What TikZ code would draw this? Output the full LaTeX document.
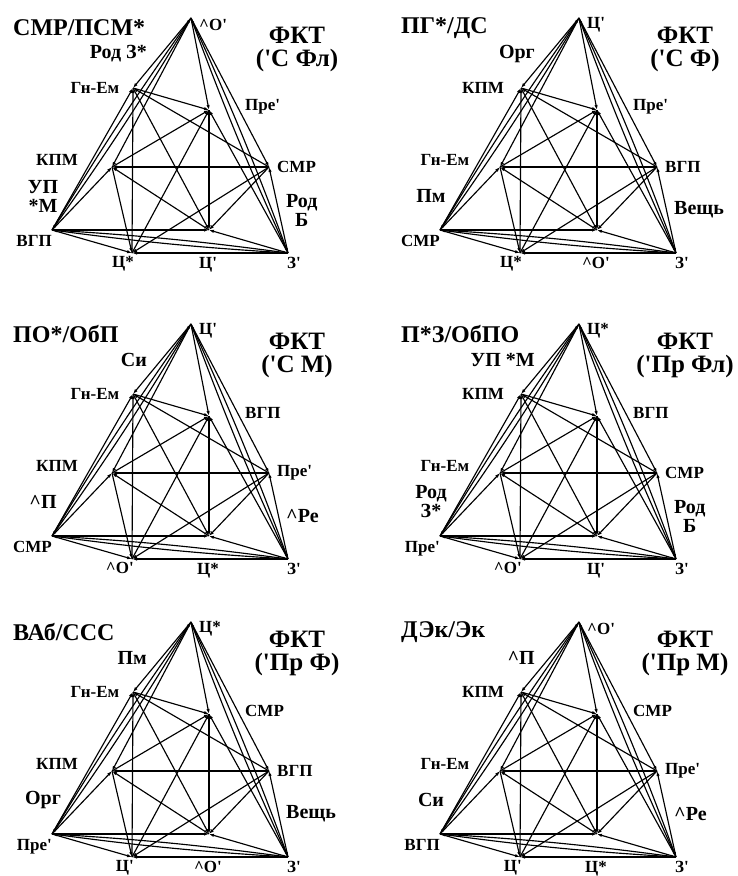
\documentclass[tikz,border=0pt]{standalone}
\usepackage{fontspec}
\setmainfont{Liberation Serif}
\usetikzlibrary{arrows.meta}

\newcommand{\ap}{\textquotesingle}
\newcommand{\crt}{\textasciicircum}

\tikzset{
  lnk/.style={-{Latex[length=5pt,width=3.4pt]}, line width=1.15pt},
  ttl/.style={font=\bfseries\fontsize{24}{26}\selectfont, inner sep=0pt},
  fkt/.style={font=\bfseries\fontsize{25}{23}\selectfont, align=center, inner sep=0pt},
  elab/.style={font=\bfseries\fontsize{20}{19}\selectfont, align=center, inner sep=0pt},
  vlab/.style={font=\bfseries\fontsize{17}{18}\selectfont, inner sep=0pt},
}

% the graph, same in every panel
\newcommand{\ftkgraph}{%
  \coordinate (T) at (0,0);
  \coordinate (G) at (-58,70);
  \coordinate (P) at (18,92);
  \coordinate (K) at (-79,149);
  \coordinate (R) at (78,149);
  \coordinate (L) at (-139,212);
  \coordinate (I) at (18,212);
  \coordinate (B) at (-59,235);
  \coordinate (Z) at (97,235);
  % inner part
  \foreach \a/\b in {G/P,R/G,G/I,B/G,K/P,R/K,I/K,K/B,P/I,B/P,R/I,R/B}
    \draw[lnk] (\a) -- (\b);
  % outer vertices to inner ones
  \foreach \a/\b in {T/G,T/K,T/P,T/R,L/G,L/K,L/I,L/B,Z/P,Z/R,Z/I,Z/B}
    \draw[lnk] (\a) -- (\b);
  % outer triangle, both ways
  \foreach \a/\b in {T/L,L/Z,Z/T}{
    \draw[lnk] (\a) to[bend left=2] (\b);
    \draw[lnk] (\b) to[bend left=2] (\a);
  }
}

% title, top vertex, upper edge, G, P, subtitle
\newcommand{\ftktop}[6]{%
  \node[ttl,anchor=west] (tt) at (-178,10) {#1};
  \node[vlab,anchor=west] (lT) at (8,7) {#2};
  \node[elab,anchor=east] (e1) at (-44,36) {#3};
  \node[vlab] (lG) at (-96,70) {#4};
  \node[vlab,anchor=west] (lP) at (54,89) {#5};
  \node[fkt] (fk) at (106,31) {ФКТ\\#6};
}
% K, left edge, R, right edge, L, B, I, Z
\newcommand{\ftkbot}[8]{%
  \node[vlab] (lK) at (-134,142) {#1};
  \node[elab] (e2) at (-148,178) {#2};
  \node[vlab,anchor=west] (lR) at (86,149) {#3};
  \node[elab,anchor=west] (e3) at (95,192) {#4};
  \node[vlab,anchor=north east] (lL) at (-139,217) {#5};
  \node[vlab,anchor=north east] (lB) at (-57,238) {#6};
  \node[vlab,anchor=north] (lI) at (17,239) {#7};
  \node[vlab,anchor=north west] (lZ) at (96,239) {#8};
}

\begin{document}
\begin{tikzpicture}[x=1pt,y=-1pt]
\useasboundingbox (0,0) rectangle (737,876);

\begin{scope}[shift={(191,18)},name prefix=a-]
  \ftkgraph
  \ftktop{СМР/ПСМ*}{\crt О\ap}{Род З*}{Гн-Ем}{Пре\ap}{(\ap С Фл)}
  \ftkbot{КПМ}{УП\\*М}{СМР}{Род\\Б}{ВГП}{Ц*}{Ц\ap}{З\ap}
\end{scope}

\begin{scope}[shift={(579,18)},name prefix=b-]
  \ftkgraph
  \ftktop{ПГ*/ДС}{Ц\ap}{Орг}{КПМ}{Пре\ap}{(\ap С Ф)}
  \ftkbot{Гн-Ем}{Пм}{ВГП}{Вещь}{СМР}{Ц*}{\crt О\ap}{З\ap}
\end{scope}

\begin{scope}[shift={(191,324)},name prefix=c-]
  \ftkgraph
  \ftktop{ПО*/ОбП}{Ц\ap}{Си}{Гн-Ем}{ВГП}{(\ap С М)}
  \ftkbot{КПМ}{\crt П}{Пре\ap}{\crt Ре}{СМР}{\crt О\ap}{Ц*}{З\ap}
\end{scope}

\begin{scope}[shift={(579,324)},name prefix=d-]
  \ftkgraph
  \ftktop{П*З/ОбПО}{Ц*}{УП *М}{КПМ}{ВГП}{(\ap Пр Фл)}
  \ftkbot{Гн-Ем}{Род\\З*}{СМР}{Род\\Б}{Пре\ap}{\crt О\ap}{Ц\ap}{З\ap}
\end{scope}

\begin{scope}[shift={(191,622)},name prefix=e-]
  \ftkgraph
  \ftktop{ВАб/ССС}{Ц*}{Пм}{Гн-Ем}{СМР}{(\ap Пр Ф)}
  \ftkbot{КПМ}{Орг}{ВГП}{Вещь}{Пре\ap}{Ц\ap}{\crt О\ap}{З\ap}
\end{scope}

\begin{scope}[shift={(579,622)},name prefix=f-]
  \ftkgraph
  \ftktop{ДЭк/Эк}{\crt О\ap}{\crt П}{КПМ}{СМР}{(\ap Пр М)}
  \ftkbot{Гн-Ем}{Си}{Пре\ap}{\crt Ре}{ВГП}{Ц\ap}{Ц*}{З\ap}
\end{scope}
\end{tikzpicture}
\end{document}
